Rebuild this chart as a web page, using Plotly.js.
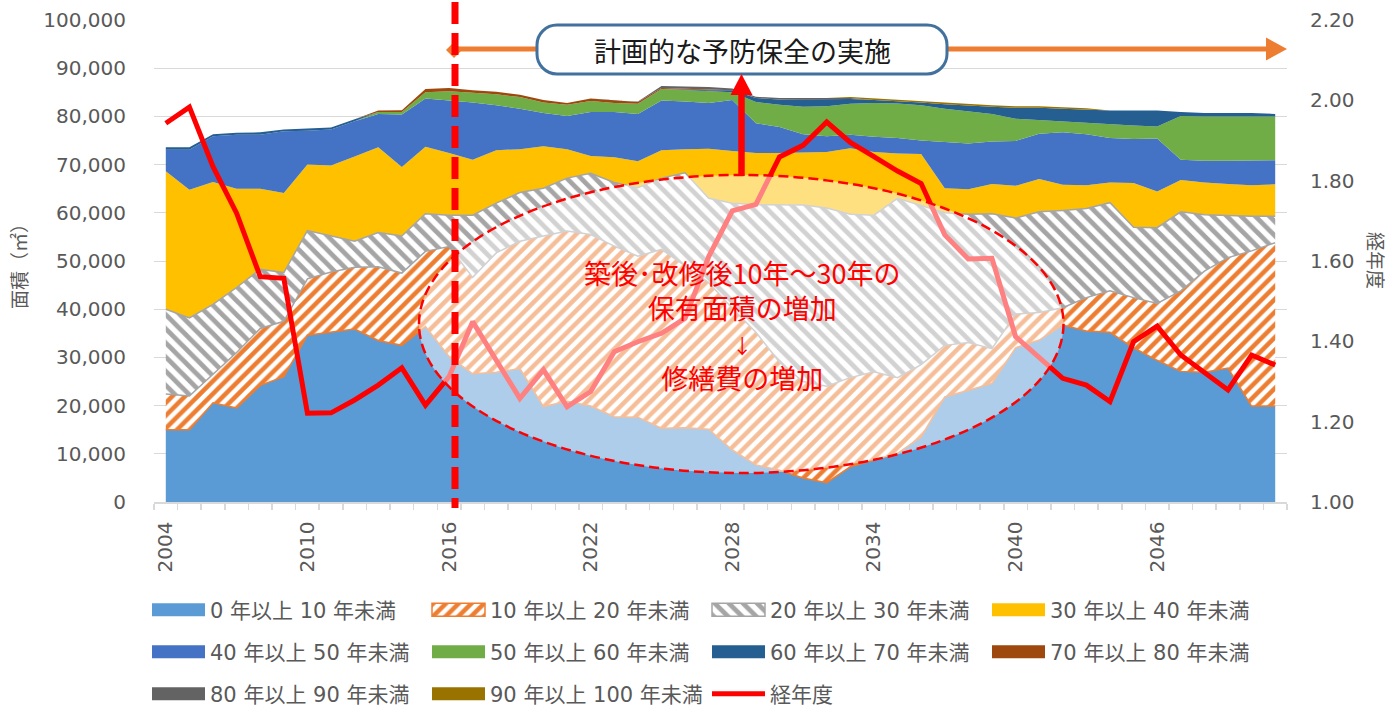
<!DOCTYPE html>
<html><head><meta charset="utf-8">
<script src="https://cdn.plot.ly/plotly-3.0.1.min.js"></script>
<style>html,body{margin:0;padding:0;background:#fff;} #chart{width:1399px;height:709px;}</style>
</head><body><div id="chart"></div>
<script>
// ---------------- data ----------------
const years = [2004,2005,2006,2007,2008,2009,2010,2011,2012,2013,
  2014,2015,2016,2017,2018,2019,2020,2021,2022,2023,
  2024,2025,2026,2027,2028,2029,2030,2031,2032,2033,
  2034,2035,2036,2037,2038,2039,2040,2041,2042,2043,
  2044,2045,2046,2047,2048,2049,2050,2051];
const tickYears = [2004,2010,2016,2022,2028,2034,2040,2046];
const seriesNames = ['0 年以上 10 年未満','10 年以上 20 年未満','20 年以上 30 年未満','30 年以上 40 年未満',
  '40 年以上 50 年未満','50 年以上 60 年未満','60 年以上 70 年未満','70 年以上 80 年未満',
  '80 年以上 90 年未満','90 年以上 100 年未満'];
const lineName = '経年度';
const age0_10 = [15000,15000,20600,19500,24200,26000,34600,35200,35900,33500,
  32500,36400,30200,26600,26900,27700,19800,20900,19900,17700,
  17600,15300,15400,15100,10800,7700,6600,5000,4000,7300,
  8700,10100,13500,21800,23200,24600,32000,33600,36700,35500,
  35200,32000,29400,27100,26900,27800,19900,19900];
const age10_20 = [7400,7000,5900,11500,11800,11500,11700,12500,12800,15300,
  15000,15600,22800,20000,24800,26400,35400,35300,35600,35400,
  33400,37100,33600,30400,29400,27500,22400,20000,20000,18500,
  18300,15700,15000,10700,9900,7200,7000,5700,3600,6900,
  8600,10400,11800,16700,21000,22900,32200,33900];
const age20_30 = [17600,16200,14500,13500,12300,10100,10000,7500,5400,7100,
  7700,7800,6500,12900,10300,10100,9900,11000,12700,13200,
  14200,14800,19300,17500,21800,26500,32700,36600,37000,33900,
  32500,37200,33000,27500,26600,28000,19900,20900,20200,18500,
  18300,14600,15700,16400,11700,8700,7200,5500];
const age30_40 = [28600,26600,25400,20500,16700,16500,13700,14600,17600,17700,
  14300,13900,12900,11500,11000,9000,8700,6000,3600,5200,
  5500,5800,4900,10300,10800,10700,10700,10900,11600,13700,
  13100,9300,10700,5100,5200,6200,6700,6800,5300,4800,
  4200,9200,7500,6600,6700,6600,6400,6600];
const age40_50 = [4500,8300,9500,11200,11200,12800,7000,7500,7300,6900,
  10900,10000,10900,11900,9300,8400,6900,6900,9100,9400,
  9800,10300,9900,9500,10600,6200,5400,3800,3300,2800,
  3200,3200,2800,9600,9500,8800,9300,9400,10900,10600,
  9200,9100,11000,4200,4500,4800,5100,5000];
const age50_60 = [0,0,0,0,0,0,0,0,0,400,
  500,1300,1900,2000,2300,2400,2200,2300,2300,1900,
  2100,2400,2400,2400,1600,4400,4600,5700,6200,6400,
  7000,7200,7300,6900,6700,5700,4600,2800,2200,2400,
  2800,2800,2500,9100,9200,9200,9200,9100];
const age60_70 = [500,500,400,400,500,400,500,400,400,0,
  0,0,0,0,0,0,0,0,0,0,
  0,0,0,200,400,800,1100,1500,1400,1000,
  600,500,600,900,1100,1500,2300,2600,2700,2700,
  2900,3100,3300,800,700,700,700,500];
const age70_80 = [0,0,0,0,0,0,0,0,0,300,
  400,700,700,500,500,500,500,400,500,500,
  400,200,200,200,0,0,0,0,0,0,
  0,0,0,0,0,0,0,0,0,0,
  0,0,0,0,0,0,0,0];
const age80_90 = [0,0,0,0,0,0,0,0,0,0,
  0,0,0,0,0,0,0,0,0,0,
  100,400,500,500,400,300,300,300,300,200,
  0,0,0,0,0,0,0,0,0,0,
  0,0,0,0,0,0,0,0];
const age90_100 = [0,0,0,0,0,0,0,0,0,0,
  0,0,0,0,0,0,0,0,0,0,
  0,0,0,0,0,0,0,0,0,200,
  300,300,300,300,300,300,300,300,300,300,
  0,0,0,0,0,0,0,0];
const ageIndex = [1.943,1.983,1.835,1.719,1.561,1.557,1.221,1.222,1.254,1.291,
  1.334,1.241,1.312,1.449,1.353,1.258,1.329,1.237,1.275,1.374,
  1.399,1.420,1.457,1.611,1.725,1.741,1.859,1.888,1.946,1.895,
  1.860,1.824,1.793,1.665,1.605,1.607,1.412,1.362,1.308,1.291,
  1.250,1.399,1.438,1.366,1.324,1.279,1.366,1.341];

// ---------------- styling ----------------
const areaSeries = [age0_10,age10_20,age20_30,age30_40,age40_50,age50_60,age60_70,age70_80,age80_90,age90_100];
const areaColors = ['#5B9BD5','#ED7D31','#A5A5A5','#FFC000','#4472C4','#70AD47','#255E91','#9E480E','#636363','#997300'];
const legendOf = i => (i < 4 ? 'legend' : (i < 8 ? 'legend2' : 'legend3'));

const traces = areaSeries.map((vals, i) => ({
  type: 'scatter', mode: 'lines', x: years, y: vals, name: seriesNames[i],
  stackgroup: 'one', fillcolor: areaColors[i],
  line: {width: 0, color: areaColors[i]},
  hoverinfo: 'skip', legend: legendOf(i)
}));
traces[0].line = {width: 1.5, color: '#ED7D31'};
traces[1].fillpattern = {shape: '/', size: 9, solidity: 0.5, fgcolor: '#ED7D31', bgcolor: '#FFFFFF', fillmode: 'replace'};
traces[1].line = {width: 1.5, color: '#A5A5A5'};
traces[2].fillpattern = {shape: '\\', size: 10, solidity: 0.48, fgcolor: '#A5A5A5', bgcolor: '#FFFFFF', fillmode: 'replace'};
traces[2].line = {width: 1.5, color: '#A5A5A5'};
traces.push({
  type: 'scatter', mode: 'lines', x: years, y: ageIndex, name: lineName, yaxis: 'y2',
  line: {color: '#FF0000', width: 5}, hoverinfo: 'skip', legend: 'legend3'
});

// pixel -> paper helpers for decorations
const PL = 154, PT = 20, PW = 1133, PH = 482;
const fx = px => (px - PL) / PW;
const fy = py => (PT + PH - py) / PH;
const pt = (x, y) => fx(x).toFixed(5) + ',' + fy(y).toFixed(5);

function roundRect(x0, y0, x1, y1, r) {
  const c = r * 0.5523;
  return 'M' + pt(x0 + r, y0) + ' L' + pt(x1 - r, y0) +
    ' C' + pt(x1 - r + c, y0) + ' ' + pt(x1, y0 + r - c) + ' ' + pt(x1, y0 + r) +
    ' L' + pt(x1, y1 - r) +
    ' C' + pt(x1, y1 - r + c) + ' ' + pt(x1 - r + c, y1) + ' ' + pt(x1 - r, y1) +
    ' L' + pt(x0 + r, y1) +
    ' C' + pt(x0 + r - c, y1) + ' ' + pt(x0, y1 - r + c) + ' ' + pt(x0, y1 - r) +
    ' L' + pt(x0, y0 + r) +
    ' C' + pt(x0, y0 + r - c) + ' ' + pt(x0 + r - c, y0) + ' ' + pt(x0 + r, y0) + ' Z';
}
const P = {xref: 'paper', yref: 'paper', layer: 'above'};
const shapes = [
  Object.assign({type: 'circle', x0: fx(419), x1: fx(1063.5), y0: fy(473), y1: fy(175),
    fillcolor: 'rgba(255,255,255,0.5)', line: {color: '#FF0000', width: 2.5, dash: '10px,5px'}}, P),
  Object.assign({type: 'line', x0: fx(454), x1: fx(540), y0: fy(49), y1: fy(49),
    line: {color: '#ED7D31', width: 5}}, P),
  Object.assign({type: 'line', x0: fx(944), x1: fx(1270), y0: fy(49), y1: fy(49),
    line: {color: '#ED7D31', width: 5}}, P),
  Object.assign({type: 'path', path: 'M' + pt(1266, 37.5) + ' L' + pt(1287, 49) + ' L' + pt(1266, 60.5) + ' Z',
    fillcolor: '#ED7D31', line: {width: 0}}, P),
  Object.assign({type: 'path', path: 'M' + pt(446, 50) + ' L' + pt(454, 42) + ' L' + pt(462, 50) + ' L' + pt(454, 58) + ' Z',
    fillcolor: '#ED7D31', line: {width: 0}}, P),
  Object.assign({type: 'line', x0: fx(455), x1: fx(455), y0: fy(2), y1: fy(508),
    line: {color: '#FF0000', width: 7, dash: '22px,9px'}}, P),
  Object.assign({type: 'path', path: roundRect(537, 25, 947, 74, 20),
    fillcolor: '#FFFFFF', line: {color: '#41719C', width: 3}}, P),
  Object.assign({type: 'line', x0: fx(741.5), x1: fx(741.5), y0: fy(176), y1: fy(92),
    line: {color: '#FF0000', width: 6.5}}, P),
  Object.assign({type: 'path', path: 'M' + pt(730.5, 95) + ' L' + pt(741.5, 74) + ' L' + pt(752.5, 95) + ' Z',
    fillcolor: '#FF0000', line: {width: 0}}, P)
];

const jp = 'Noto Sans CJK JP';
const A = {xref: 'paper', yref: 'paper', showarrow: false, xanchor: 'center', yanchor: 'middle'};
const annotations = [
  Object.assign({x: fx(18), y: fy(262), text: '面積（㎡）', textangle: -90, font: {family: jp, size: 19, color: '#595959'}}, A),
  Object.assign({x: fx(1377), y: fy(260), text: '経年度', textangle: 90, font: {family: jp, size: 19, color: '#595959'}}, A),
  Object.assign({x: fx(742), y: fy(50), text: '計画的な予防保全の実施', font: {family: jp, size: 27, color: '#1A1A1A'}}, A),
  Object.assign({x: fx(741.5), y: fy(324.5), align: 'center',
    text: '築後･改修後10年～30年の<br>保有面積の増加<br><span style="font-size:20px">↓</span><br>修繕費の増加',
    font: {family: jp, size: 27, color: '#FF0000'}}, A)
];

const legendBase = {
  orientation: 'h', xanchor: 'left', yanchor: 'middle', x: fx(147),
  font: {family: 'DejaVu Sans, ' + jp, size: 21, color: '#595959'},
  itemwidth: 53, entrywidth: 212, entrywidthmode: 'pixels',
  bgcolor: 'rgba(0,0,0,0)', borderwidth: 0, traceorder: 'normal', itemclick: false, itemdoubleclick: false
};

const layout = {
  width: 1399, height: 709,
  margin: {l: PL, r: 1399 - PL - PW, t: PT, b: 709 - PT - PH, autoexpand: false},
  paper_bgcolor: '#FFFFFF', plot_bgcolor: '#FFFFFF',
  font: {family: 'DejaVu Sans, ' + jp, color: '#595959'},
  showlegend: true,
  xaxis: {
    range: [2003.5, 2051.5], tickmode: 'array', tickvals: tickYears, ticktext: tickYears.map(String),
    tickangle: -90, ticks: '', showgrid: false, zeroline: false,
    showline: true, linecolor: '#D9D9D9', linewidth: 1.5,
    tickfont: {size: 20, color: '#595959'}, ticklabelstandoff: 10,
    minor: {tickmode: 'linear', tick0: 2003.5, dtick: 1, ticks: 'outside', ticklen: 6, tickcolor: '#D9D9D9', tickwidth: 1.5, showgrid: false}
  },
  yaxis: {
    range: [0, 100000], tickmode: 'linear', tick0: 0, dtick: 10000, tickformat: ',d',
    gridcolor: '#D9D9D9', gridwidth: 1, showline: false, zeroline: false,
    tickfont: {size: 20, color: '#595959'}, ticklabelstandoff: 27
  },
  yaxis2: {
    range: [1, 2.2], tickmode: 'linear', tick0: 1, dtick: 0.2, tickformat: '.2f',
    overlaying: 'y', side: 'right', showgrid: false, zeroline: false, showline: false,
    tickfont: {size: 20, color: '#595959'}, ticklabelstandoff: 22
  },
  legend: Object.assign({}, legendBase, {y: fy(610)}),
  legend2: Object.assign({}, legendBase, {y: fy(652)}),
  legend3: Object.assign({}, legendBase, {y: fy(694)}),
  shapes: shapes,
  annotations: annotations
};

Plotly.newPlot('chart', traces, layout, {displayModeBar: false, staticPlot: true}).then(gd => {
  // enlarge legend swatches of the area series to match the reference boxes
  gd.querySelectorAll('g.legend g.traces, g.infolayer g.traces').forEach(g => {
    const d = g.__data__;
    if (!d || !d[0] || !d[0].trace) return;
    const tr = d[0].trace;
    if (!tr.stackgroup) return;
    g.querySelectorAll('.legendfill path').forEach(p => {
      p.setAttribute('d', 'M5,-6.5h53v13h-53z');
      if (tr.fillpattern) {
        p.style.stroke = tr.fillpattern.fgcolor;
        p.style.strokeWidth = '1.5px';
      }
    });
    g.querySelectorAll('.legendlines path').forEach(p => { p.style.display = 'none'; });
  });
});
</script>
</body></html>
